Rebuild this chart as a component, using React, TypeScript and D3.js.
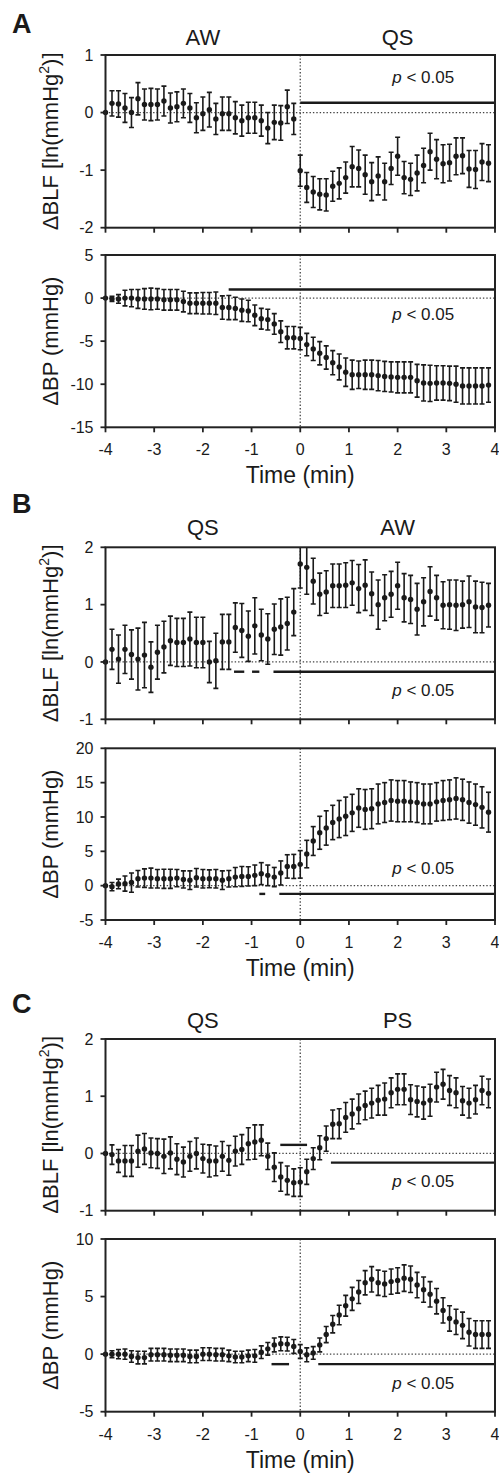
import React from 'react';
import * as d3 from 'd3';

// Time points (seconds relative to state transition)
const timeSec = [
  -240, -232, -224, -216, -208, -200, -192, -184, -176, -168,
  -160, -152, -144, -136, -128, -120, -112, -104, -96, -88,
  -80, -72, -64, -56, -48, -40, -32, -24, -16, -8,
  0, 8, 16, 24, 32, 40, 48, 56, 64, 72,
  80, 88, 96, 104, 112, 120, 128, 136, 144, 152,
  160, 168, 176, 184, 192, 200, 208, 216, 224, 232,
];

const panelLetters = ['A', 'B', 'C'];
const stateLabels = [['AW', 'QS'], ['QS', 'AW'], ['QS', 'PS']];
const xTicks = [-4, -3, -2, -1, 0, 1, 2, 3, 4];
const blfLabel = 'ΔBLF [ln(mmHg';
const bpLabel = 'ΔBP (mmHg)';
const xLabel = 'Time (min)';
const pText = '< 0.05';

// Panel A
const aBlfTicks = [-2, -1, 0, 1];
const aBlfMean = [0, 0.16, 0.15, 0.08, 0.0, 0.24, 0.14, 0.14, 0.14, 0.2, 0.08, 0.1, 0.16, 0.08, -0.09, -0.02, 0.05, -0.11, -0.02, -0.02, -0.09, -0.14, -0.09, -0.09, -0.14, -0.27, -0.17, -0.18, 0.1, -0.11,
  -1.01, -1.3, -1.38, -1.42, -1.43, -1.28, -1.23, -1.13, -0.94, -0.97, -1.08, -1.2, -1.1, -1.2, -0.97, -0.76, -1.13, -1.16, -1.05, -0.92, -0.68, -0.81, -0.89, -0.87, -0.76, -0.75, -0.98, -0.99, -0.86, -0.88];
const aBlfErr = [0, 0.22, 0.23, 0.25, 0.26, 0.28, 0.27, 0.28, 0.27, 0.26, 0.26, 0.26, 0.25, 0.25, 0.26, 0.29, 0.3, 0.27, 0.29, 0.29, 0.28, 0.27, 0.27, 0.27, 0.27, 0.27, 0.3, 0.3, 0.29, 0.27,
  0.27, 0.26, 0.27, 0.27, 0.28, 0.26, 0.27, 0.27, 0.35, 0.32, 0.34, 0.33, 0.33, 0.32, 0.28, 0.33, 0.28, 0.28, 0.31, 0.3, 0.32, 0.34, 0.33, 0.32, 0.32, 0.31, 0.32, 0.33, 0.32, 0.32];
const aBlfSig = [{ from: 0, to: 4, level: 0.17 }];

const aBpTicks = [-15, -10, -5, 0, 5];
const aBpMean = [0, -0.1, -0.1, 0.0, 0.0, -0.1, -0.1, -0.1, -0.1, -0.2, -0.2, -0.2, -0.4, -0.6, -0.6, -0.6, -0.6, -0.6, -1.1, -1.1, -1.2, -1.4, -1.5, -2.0, -2.4, -2.5, -3.0, -3.9, -4.6, -4.6,
  -4.7, -5.4, -5.9, -6.4, -6.9, -7.5, -8.0, -8.6, -8.9, -8.9, -8.9, -8.9, -9.0, -9.1, -9.15, -9.2, -9.2, -9.2, -9.6, -9.85, -9.9, -9.85, -9.85, -9.9, -10.0, -10.2, -10.2, -10.2, -10.2, -10.1];
const aBpErr = [0, 0.3, 0.5, 0.9, 1.0, 1.1, 1.2, 1.25, 1.2, 1.2, 1.2, 1.2, 1.2, 1.2, 1.2, 1.25, 1.25, 1.3, 1.35, 1.4, 1.3, 1.3, 1.25, 1.2, 1.2, 1.2, 1.2, 1.25, 1.3, 1.3,
  1.3, 1.3, 1.35, 1.35, 1.35, 1.4, 1.5, 1.65, 1.7, 1.6, 1.7, 1.7, 1.75, 1.75, 1.75, 1.8, 1.8, 1.8, 1.9, 2.1, 2.1, 2.0, 2.0, 2.0, 2.1, 2.1, 2.1, 2.1, 2.1, 2.0];
const aBpSig = [{ from: -1.47, to: 4, level: 1.0 }];

// Panel B
const bBlfTicks = [-1, 0, 1, 2];
const bBlfMean = [0, 0.22, 0.05, 0.22, 0.13, 0.05, 0.12, -0.09, 0.17, 0.26, 0.37, 0.34, 0.34, 0.4, 0.34, 0.34, 0.0, 0.02, 0.35, 0.35, 0.6, 0.55, 0.45, 0.63, 0.47, 0.4, 0.57, 0.61, 0.67, 0.87,
  1.71, 1.65, 1.41, 1.18, 1.22, 1.33, 1.33, 1.34, 1.38, 1.28, 1.34, 1.19, 1.0, 1.12, 1.18, 1.33, 1.12, 1.09, 0.92, 1.05, 1.23, 1.12, 0.99, 1.0, 0.99, 1.0, 1.05, 0.96, 0.95, 0.99];
const bBlfErr = [0, 0.35, 0.42, 0.42, 0.43, 0.54, 0.57, 0.44, 0.47, 0.45, 0.43, 0.42, 0.42, 0.47, 0.44, 0.44, 0.36, 0.48, 0.48, 0.48, 0.43, 0.47, 0.44, 0.49, 0.45, 0.44, 0.44, 0.49, 0.46, 0.41,
  0.42, 0.47, 0.4, 0.37, 0.37, 0.38, 0.38, 0.39, 0.39, 0.42, 0.44, 0.38, 0.43, 0.4, 0.4, 0.41, 0.42, 0.42, 0.45, 0.42, 0.43, 0.39, 0.41, 0.43, 0.44, 0.41, 0.45, 0.45, 0.44, 0.38];
const bBlfSig = [
  { from: -1.36, to: -1.15, level: -0.17 },
  { from: -0.99, to: -0.84, level: -0.17 },
  { from: -0.55, to: 4, level: -0.17 },
];

const bBpTicks = [-5, 0, 5, 10, 15, 20];
const bBpMean = [0, -0.15, 0.25, 0.3, 0.45, 1.0, 1.1, 1.1, 1.0, 1.0, 1.0, 1.1, 0.9, 0.8, 1.15, 1.0, 1.0, 1.0, 0.8, 1.0, 1.25, 1.35, 1.35, 1.5, 1.75, 1.5, 1.25, 1.85, 2.8, 2.8,
  3.1, 4.6, 6.5, 7.7, 8.4, 9.2, 9.7, 10.1, 10.6, 11.3, 11.1, 11.2, 11.9, 12.1, 12.4, 12.3, 12.3, 12.2, 12.1, 11.9, 11.9, 12.2, 12.4, 12.5, 12.7, 12.5, 12.1, 11.8, 11.4, 10.7];
const bBpErr = [0, 0.6, 0.7, 1.1, 1.4, 1.2, 1.35, 1.45, 1.35, 1.4, 1.4, 1.25, 1.25, 1.35, 1.35, 1.35, 1.3, 1.35, 1.35, 1.2, 1.4, 1.45, 1.4, 1.5, 1.6, 1.5, 1.4, 1.75, 1.7, 1.75,
  2.0, 2.0, 2.1, 2.4, 2.5, 2.5, 2.7, 2.8, 2.7, 2.8, 2.9, 2.9, 2.9, 2.9, 3.0, 3.0, 3.0, 2.9, 2.9, 2.9, 2.9, 2.8, 2.9, 2.9, 3.0, 3.0, 3.0, 3.0, 3.0, 2.9];
const bBpSig = [
  { from: -0.84, to: -0.72, level: -1.2 },
  { from: -0.43, to: 4, level: -1.2 },
];

// Panel C
const cBlfTicks = [-1, 0, 1, 2];
const cBlfMean = [0, -0.02, -0.13, -0.13, -0.13, 0.04, 0.08, 0.01, 0, -0.05, 0.01, -0.1, -0.15, -0.05, 0, -0.09, -0.13, -0.13, -0.05, -0.12, 0.04, 0.07, 0.17, 0.2, 0.23, -0.05, -0.24, -0.41, -0.47, -0.51,
  -0.5, -0.32, -0.09, 0.1, 0.26, 0.51, 0.52, 0.63, 0.69, 0.78, 0.84, 0.88, 0.93, 0.95, 1.06, 1.12, 1.12, 0.94, 0.91, 0.88, 0.93, 1.16, 1.21, 1.1, 1.06, 0.92, 0.88, 0.94, 1.1, 1.05];
const cBlfErr = [0, 0.17, 0.2, 0.27, 0.27, 0.28, 0.27, 0.26, 0.26, 0.3, 0.28, 0.27, 0.26, 0.26, 0.27, 0.25, 0.28, 0.26, 0.26, 0.26, 0.26, 0.26, 0.28, 0.3, 0.27, 0.23, 0.25, 0.25, 0.25, 0.24,
  0.25, 0.22, 0.19, 0.21, 0.22, 0.25, 0.26, 0.26, 0.26, 0.26, 0.25, 0.26, 0.26, 0.28, 0.26, 0.27, 0.27, 0.26, 0.27, 0.28, 0.28, 0.26, 0.26, 0.26, 0.26, 0.25, 0.26, 0.25, 0.25, 0.25];
const cBlfSig = [
  { from: -0.41, to: 0.14, level: 0.15 },
  { from: 0.63, to: 4, level: -0.16 },
];

const cBpTicks = [-5, 0, 5, 10];
const cBpMean = [0, 0, 0, 0, -0.2, -0.3, -0.3, -0.05, -0.05, -0.05, -0.1, -0.1, -0.1, -0.2, -0.2, 0, 0, -0.05, -0.05, -0.15, -0.25, -0.25, -0.15, -0.15, 0.17, 0.46, 0.8, 0.9, 0.87, 0.67,
  0.23, -0.06, 0.1, 0.8, 1.7, 2.6, 3.4, 4.2, 4.8, 5.4, 6.2, 6.5, 6.2, 6.1, 6.3, 6.4, 6.6, 6.5, 6.0, 5.6, 5.2, 4.6, 3.8, 3.1, 2.8, 2.5, 1.9, 1.7, 1.7, 1.7];
const cBpErr = [0, 0.3, 0.4, 0.45, 0.5, 0.55, 0.55, 0.55, 0.55, 0.55, 0.55, 0.55, 0.55, 0.55, 0.55, 0.55, 0.55, 0.55, 0.55, 0.5, 0.5, 0.5, 0.5, 0.55, 0.55, 0.55, 0.6, 0.6, 0.6, 0.6,
  0.6, 0.6, 0.55, 0.6, 0.7, 0.75, 0.85, 0.9, 1.0, 1.0, 1.05, 1.1, 1.1, 1.1, 1.1, 1.1, 1.15, 1.15, 1.1, 1.1, 1.1, 1.1, 1.1, 1.1, 1.1, 1.15, 1.2, 1.2, 1.2, 1.2];
const cBpSig = [
  { from: -0.59, to: -0.23, level: -0.87 },
  { from: 0.37, to: 4, level: -0.87 },
];

// p-label positions (minutes, value units)
const pPositions = [
  { t: 1.89, v: 0.51 }, { t: 1.89, v: -2.5 },
  { t: 1.89, v: -0.6 }, { t: 1.89, v: 1.65 },
  { t: 1.89, v: -0.59 }, { t: 1.89, v: -3.0 },
];

const W = 499;
const H = 1474;
const FONT = "'Liberation Sans', Arial, Helvetica, sans-serif";
const INK = '#1a1a1a';

const xScale = d3.scaleLinear().domain([-4, 4]).range([105.5, 495]);

type Sig = { from: number; to: number; level: number };

function Plot(props: {
  id: string; top: number; bottom: number; ticks: number[];
  mean: number[]; err: number[]; sig: Sig[]; p: { t: number; v: number };
  isBlf: boolean; showX: boolean;
}) {
  const { id, top, bottom, ticks, mean, err, sig, p, isBlf, showX } = props;
  const y = d3.scaleLinear().domain([ticks[0], ticks[ticks.length - 1]]).range([bottom, top]);
  const x0 = xScale.range()[0];
  const x1 = xScale.range()[1];
  const cy = (top + bottom) / 2;
  const pts = timeSec.map((s, i) => ({ t: s / 60, m: mean[i], e: err[i] }));
  return (
    <g>
      <defs>
        <clipPath id={id}>
          <rect x={x0} y={top} width={x1 - x0} height={bottom - top} />
        </clipPath>
      </defs>
      {/* zero dotted line */}
      <line x1={x0} x2={x1} y1={y(0)} y2={y(0)} stroke="#444" strokeWidth={1.3} strokeDasharray="1.4,2" />
      {/* vertical dotted at t=0 */}
      <line x1={xScale(0)} x2={xScale(0)} y1={top} y2={bottom} stroke="#444" strokeWidth={1.3} strokeDasharray="1.4,2" />
      {/* significance bars */}
      {sig.map((s, i) => (
        <line key={'s' + i} x1={xScale(s.from)} x2={xScale(s.to)} y1={y(s.level)} y2={y(s.level)} stroke={INK} strokeWidth={2.4} />
      ))}
      {/* error bars */}
      <g clipPath={`url(#${id})`}>
        {pts.map((d, i) => d.e > 0 ? (
          <g key={'e' + i} stroke={INK} strokeWidth={1.6}>
            <line x1={xScale(d.t)} x2={xScale(d.t)} y1={y(d.m + d.e)} y2={y(d.m - d.e)} />
            <line x1={xScale(d.t) - 2.5} x2={xScale(d.t) + 2.5} y1={y(d.m + d.e)} y2={y(d.m + d.e)} />
            <line x1={xScale(d.t) - 2.5} x2={xScale(d.t) + 2.5} y1={y(d.m - d.e)} y2={y(d.m - d.e)} />
          </g>
        ) : null)}
      </g>
      {pts.map((d, i) => (
        <circle key={'c' + i} cx={xScale(d.t)} cy={y(d.m)} r={2.7} fill={INK} />
      ))}
      {/* frame */}
      <rect x={x0} y={top} width={x1 - x0} height={bottom - top} fill="none" stroke="#222" strokeWidth={2} />
      {/* y ticks */}
      {ticks.map((t) => (
        <g key={'yt' + t}>
          <line x1={x0 - 5} x2={x0} y1={y(t)} y2={y(t)} stroke="#222" strokeWidth={1.8} />
          <text x={x0 - 12} y={y(t)} dy="0.36em" textAnchor="end" fontSize={16} fontFamily={FONT} fill={INK}>{t}</text>
        </g>
      ))}
      {/* x ticks */}
      {xTicks.map((t) => (
        <g key={'xt' + t}>
          <line x1={xScale(t)} x2={xScale(t)} y1={bottom} y2={bottom + 5} stroke="#222" strokeWidth={1.8} />
          {showX ? (
            <text x={xScale(t)} y={bottom + 28} textAnchor="middle" fontSize={16} fontFamily={FONT} fill={INK}>{t}</text>
          ) : null}
        </g>
      ))}
      {/* p label */}
      <text x={xScale(p.t)} y={y(p.v)} fontSize={17} fontFamily={FONT} fill={INK}>
        <tspan fontStyle="italic">p</tspan> {pText}
      </text>
      {/* y axis label */}
      <text transform={`translate(58,${cy}) rotate(-90)`} textAnchor="middle" fontSize={22} fontFamily={FONT} fill={INK}>
        {isBlf ? (
          <>
            {blfLabel}
            <tspan fontSize={14} dy="-9">2</tspan>
            <tspan dy="9">)]</tspan>
          </>
        ) : bpLabel}
      </text>
      {showX ? (
        <text x={xScale(0)} y={bottom + 56} textAnchor="middle" fontSize={23} fontFamily={FONT} fill={INK}>{xLabel}</text>
      ) : null}
    </g>
  );
}

const layout = [
  { letterY: 33, stateY: 45, blfTop: 55, blfBottom: 227.7, bpTop: 255, bpBottom: 427.3 },
  { letterY: 513, stateY: 535, blfTop: 547.3, blfBottom: 719.3, bpTop: 748.3, bpBottom: 920 },
  { letterY: 1013, stateY: 1028, blfTop: 1039, blfBottom: 1210.7, bpTop: 1239, bpBottom: 1411.7 },
];

const panelData = [
  { blfTicks: aBlfTicks, blfMean: aBlfMean, blfErr: aBlfErr, blfSig: aBlfSig, bpTicks: aBpTicks, bpMean: aBpMean, bpErr: aBpErr, bpSig: aBpSig },
  { blfTicks: bBlfTicks, blfMean: bBlfMean, blfErr: bBlfErr, blfSig: bBlfSig, bpTicks: bBpTicks, bpMean: bBpMean, bpErr: bBpErr, bpSig: bBpSig },
  { blfTicks: cBlfTicks, blfMean: cBlfMean, blfErr: cBlfErr, blfSig: cBlfSig, bpTicks: cBpTicks, bpMean: cBpMean, bpErr: cBpErr, bpSig: cBpSig },
];

export default function App() {
  return (
    <svg width={W} height={H} style={{ position: 'absolute', left: 0, top: 0, background: '#fff' }}>
      <rect width={W} height={H} fill="#fff" />
      {panelData.map((pd, k) => {
        const L = layout[k];
        return (
          <g key={k}>
            <text x={12} y={L.letterY} fontSize={27} fontWeight="bold" fontFamily={FONT} fill={INK}>{panelLetters[k]}</text>
            <text x={xScale(-2)} y={L.stateY} textAnchor="middle" fontSize={22} fontFamily={FONT} fill={INK}>{stateLabels[k][0]}</text>
            <text x={xScale(2)} y={L.stateY} textAnchor="middle" fontSize={22} fontFamily={FONT} fill={INK}>{stateLabels[k][1]}</text>
            <Plot id={`clipblf${k}`} top={L.blfTop} bottom={L.blfBottom} ticks={pd.blfTicks} mean={pd.blfMean} err={pd.blfErr} sig={pd.blfSig} p={pPositions[k * 2]} isBlf={true} showX={false} />
            <Plot id={`clipbp${k}`} top={L.bpTop} bottom={L.bpBottom} ticks={pd.bpTicks} mean={pd.bpMean} err={pd.bpErr} sig={pd.bpSig} p={pPositions[k * 2 + 1]} isBlf={false} showX={true} />
          </g>
        );
      })}
    </svg>
  );
}
